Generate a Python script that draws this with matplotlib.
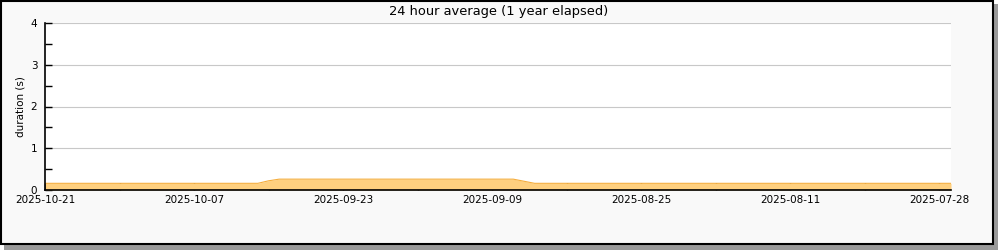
import matplotlib
matplotlib.use("Agg")
import matplotlib.pyplot as plt
from matplotlib.patches import Rectangle
import pandas as pd

title = "24 hour average (1 year elapsed)"
ylabel = "duration (s)"
dates = ["2025-10-21 00:00", "2025-10-01 00:00", "2025-09-30 00:00", "2025-09-29 00:00",
         "2025-09-07 00:00", "2025-09-06 00:00", "2025-09-05 00:00", "2025-07-27 21:00"]
values = [0.16, 0.16, 0.22, 0.26, 0.26, 0.21, 0.16, 0.16]
major_tick_labels = ["2025-10-21", "2025-10-07", "2025-09-23", "2025-09-09",
                     "2025-08-25", "2025-08-11", "2025-07-28"]
yticks = [0, 1, 2, 3, 4]

x = pd.to_datetime(dates, format="%Y-%m-%d %H:%M")
fig = plt.figure(figsize=(10, 2.5), dpi=100)
fig.patch.set_facecolor("white")

# frame with shadow
fig.patches.append(Rectangle((0.004, 0.0), 0.994, 0.985, transform=fig.transFigure,
                             facecolor="#9a9a9a", edgecolor="none", zorder=-3))
fig.patches.append(Rectangle((0.001, 0.026), 0.992, 0.972, transform=fig.transFigure,
                             facecolor="#f9f9f9", edgecolor="black", linewidth=1.5, zorder=-2))

ax = fig.add_axes([0.045, 0.24, 0.906, 0.668])
ax.set_facecolor("white")
ax.fill_between(x, values, 0, color="#ffd07f", linewidth=0, zorder=2)
ax.plot(x, values, color="#f5ad3c", linewidth=0.8, zorder=3)

start = pd.Timestamp(major_tick_labels[0])
major = pd.date_range(end=start, periods=len(major_tick_labels), freq="14D")[::-1]
minor = pd.date_range(end=start, periods=2 * len(major_tick_labels) - 1, freq="7D")
ax.set_xticks(major)
ax.set_xticklabels(major_tick_labels)
ax.set_xticks(minor, minor=True)
ax.set_yticks(yticks)
ax.set_yticks([0.5, 1.5, 2.5, 3.5], minor=True)

ax.set_xlim(start, x[-1])
ax.set_ylim(0, 4)

ax.tick_params(axis="both", which="both", direction="in", length=5, width=1,
               labelsize=7.5, color="black", pad=3.5)
ax.tick_params(axis="y", which="both", pad=5.5)
ax.grid(axis="y", which="major", color="#c8c8c8", linewidth=0.8, zorder=0)
ax.set_axisbelow(True)

for s in ["top", "right"]:
    ax.spines[s].set_visible(False)
for s in ["left", "bottom"]:
    ax.spines[s].set_color("black")
    ax.spines[s].set_linewidth(1.2)
    ax.spines[s].set_zorder(5)

ax.set_ylabel(ylabel, fontsize=7.5, labelpad=4)
fig.text(0.4985, 0.955, title, ha="center", va="center", fontsize=9.4)

fig.savefig("out.png", dpi=100, facecolor=fig.get_facecolor())
